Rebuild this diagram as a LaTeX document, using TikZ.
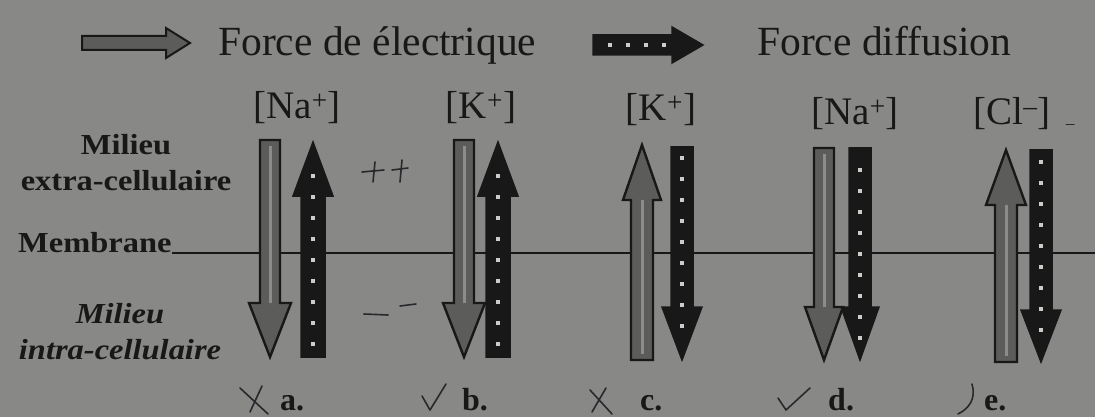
\documentclass[tikz,border=0pt]{standalone}
\usepackage{fontspec}
\setmainfont{Liberation Serif}
\begin{document}
\definecolor{bg}{RGB}{136,136,134}
\definecolor{ink}{RGB}{24,24,24}
\definecolor{elec}{RGB}{92,92,90}
\definecolor{stripe}{RGB}{140,140,136}
\definecolor{dotc}{RGB}{205,205,200}
\definecolor{pen}{RGB}{40,40,45}
\newcommand{\barrow}[7]{% x, tail, tip, base, half shaft, half head, style
  \draw[#7] ({#1-#5},#2) -- ({#1+#5},#2) -- ({#1+#5},#4) -- ({#1+#6},#4) -- (#1,#3) -- ({#1-#6},#4) -- ({#1-#5},#4) -- cycle;}
\newcommand{\estripe}[3]{\draw[stripe,line width=3pt] (#1,#2) -- (#1,#3);}
\newcommand{\dotrow}[3]{\pgfmathtruncatemacro{\dsecond}{#2+21}\foreach \yy in {#2,\dsecond,...,#3} \fill[dotc] ({#1-2.4},{\yy-2.4}) rectangle ++(4.8,4.8);}
\begin{tikzpicture}[x=1pt,y=-1pt,
  elecarrow/.style={draw=ink,fill=elec,line width=2.4pt,line join=miter},
  diffarrow/.style={draw=ink,fill=ink,line width=1.5pt,line join=miter},
  lbl/.style={text=ink,font=\fontsize{41.5}{44}\selectfont,inner sep=0pt},
  ion/.style={text=ink,font=\fontsize{39}{42}\selectfont,inner sep=0pt},
  side/.style={text=ink,font=\fontsize{29}{36}\selectfont\bfseries,inner sep=0pt,align=center,xscale=1.12,transform shape},
  letter/.style={text=ink,font=\fontsize{32}{34}\selectfont\bfseries,inner sep=0pt},
  hand/.style={draw=pen,line width=1.6pt,line cap=round,line join=round}]
\fill[bg] (0,0) rectangle (1095,417);
\useasboundingbox (0,0) rectangle (1095,417);

% legend
\draw[elecarrow,line width=2pt] (82,36) -- (166,36) -- (166,28) -- (190,43) -- (166,58) -- (166,50) -- (82,50) -- cycle;
\node[lbl,anchor=base west] (fe) at (218,56) {Force de électrique};
\draw[diffarrow] (593,35) -- (672,35) -- (672,27) -- (703,45) -- (672,63) -- (672,55) -- (593,55) -- cycle;
\foreach \xx in {610,628,646,664} \fill[dotc] ({\xx-2.4},42.6) rectangle ++(4.8,4.8);
\node[lbl,anchor=base west] (fd) at (757,56) {Force diffusion};

% side labels
\node[side] (me) at (126,163) {Milieu\\extra-cellulaire};
\node[side,anchor=base west] (mb) at (18,252) {Membrane};
\node[side,font=\fontsize{29}{36}\selectfont\bfseries\itshape] (mi) at (120,332) {Milieu\\intra-cellulaire};
\coordinate (mend) at (1095,253);
\draw[ink,line width=2.4pt] (172,253) -- (mend);

% ion labels
\node[ion] (ia) at (297,108) {[Na\textsuperscript{+}]};
\node[ion] (ib) at (481,108) {[K\textsuperscript{+}]};
\node[ion] (ic) at (661,110) {[K\textsuperscript{+}]};
\node[ion] (id) at (855,114) {[Na\textsuperscript{+}]};
\node[ion] (ie) at (1012,114) {[Cl\textsuperscript{–}]};

% a
\barrow{270}{140}{357}{303}{10}{21}{elecarrow}\estripe{270}{146}{303}
\barrow{313}{357}{142}{196}{12}{20}{diffarrow}\dotrow{313}{176}{350}
% b
\barrow{464}{140}{357}{303}{10}{21}{elecarrow}\estripe{464}{146}{303}
\barrow{498}{357}{142}{196}{12}{20}{diffarrow}\dotrow{498}{176}{350}
% c
\barrow{642}{360}{145}{200}{11}{19}{elecarrow}\estripe{642}{200}{354}
\barrow{682}{147}{360}{307}{11}{20}{diffarrow}\dotrow{682}{158}{345}
% d
\barrow{824}{148}{360}{307}{10}{19}{elecarrow}\estripe{824}{154}{307}
\barrow{860}{148}{360}{307}{11}{19}{diffarrow}\dotrow{860}{170}{350}
% e
\barrow{1006}{362}{150}{205}{11}{20}{elecarrow}\estripe{1006}{205}{356}
\barrow{1041}{150}{362}{310}{11}{20}{diffarrow}\dotrow{1041}{162}{350}

% letters
\node[letter,anchor=base west] (la) at (280,410) {a.};
\node[letter,anchor=base west] (lb) at (462,410) {b.};
\node[letter,anchor=base west] (lc) at (640,410) {c.};
\node[letter,anchor=base west] (ld) at (828,410) {d.};
\node[letter,anchor=base west] (le) at (984,410) {e.};

% handwritten marks
\draw[hand] (240,388) -- (268,414) (250,412) -- (262,386);
\draw[hand] (422,396) -- (430,410) -- (446,384);
\draw[hand] (590,390) -- (612,414) (592,412) -- (606,388);
\draw[hand] (778,398) -- (786,410) -- (810,388);
\draw[hand] (972,384) .. controls (976,398) and (970,408) .. (958,414);
% + + and - -
\draw[hand] (362,172) -- (384,170) (375,162) -- (373,182);
\draw[hand] (392,170) -- (408,168) (402,160) -- (400,182);
\draw[hand] (364,314) -- (388,315);
\draw[hand] (400,306) -- (416,304);
\draw[hand,line width=1pt] (1066,125) -- (1074,125);
\end{tikzpicture}
\end{document}
